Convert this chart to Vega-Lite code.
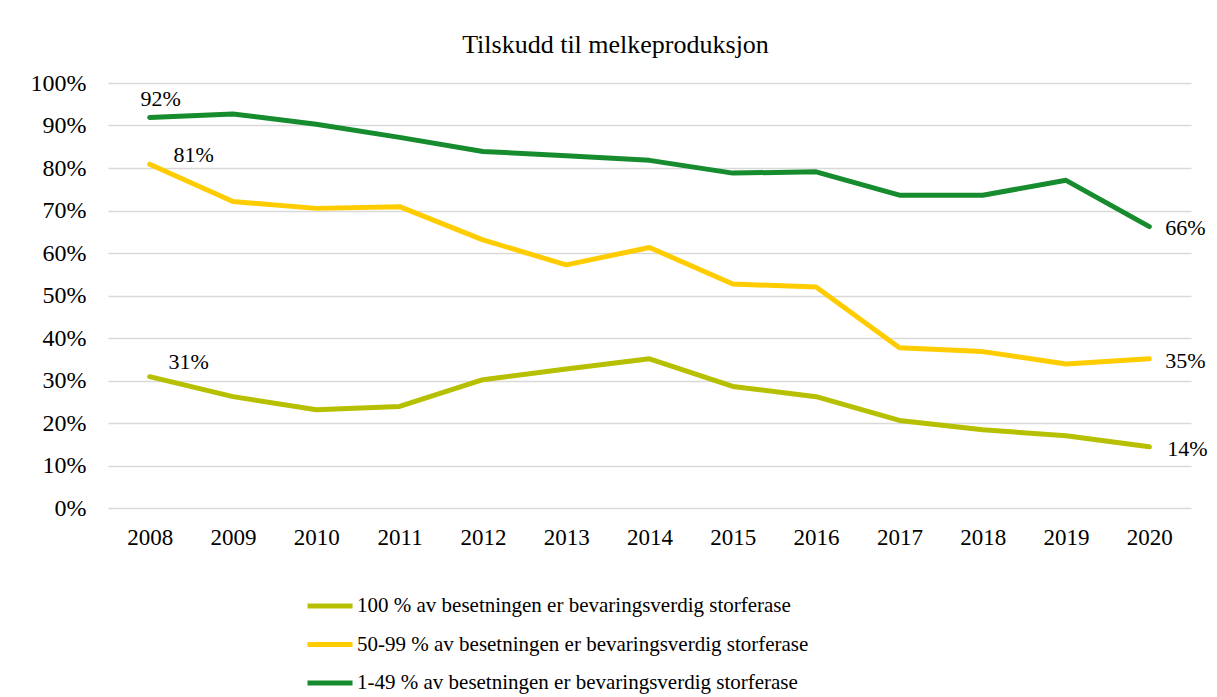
{
  "$schema": "https://vega.github.io/schema/vega-lite/v6.json",
  "width": 1083,
  "height": 425,
  "autosize": {"type": "none"},
  "padding": {"left": 108, "top": 83, "right": 26, "bottom": 189},
  "background": "white",
  "title": {
    "text": "Tilskudd til melkeproduksjon",
    "font": "Liberation Serif",
    "fontSize": 26,
    "fontWeight": "normal",
    "color": "#000000",
    "anchor": "middle",
    "dx": -34,
    "offset": 13
  },
  "config": {
    "view": {"stroke": null},
    "font": "Liberation Serif"
  },
  "data": {
    "values": [
      {"year": "2008", "series": "100 % av besetningen er bevaringsverdig storferase", "value": 0.309},
      {"year": "2009", "series": "100 % av besetningen er bevaringsverdig storferase", "value": 0.262},
      {"year": "2010", "series": "100 % av besetningen er bevaringsverdig storferase", "value": 0.231},
      {"year": "2011", "series": "100 % av besetningen er bevaringsverdig storferase", "value": 0.239},
      {"year": "2012", "series": "100 % av besetningen er bevaringsverdig storferase", "value": 0.302},
      {"year": "2013", "series": "100 % av besetningen er bevaringsverdig storferase", "value": 0.327},
      {"year": "2014", "series": "100 % av besetningen er bevaringsverdig storferase", "value": 0.351},
      {"year": "2015", "series": "100 % av besetningen er bevaringsverdig storferase", "value": 0.286},
      {"year": "2016", "series": "100 % av besetningen er bevaringsverdig storferase", "value": 0.262},
      {"year": "2017", "series": "100 % av besetningen er bevaringsverdig storferase", "value": 0.206},
      {"year": "2018", "series": "100 % av besetningen er bevaringsverdig storferase", "value": 0.184},
      {"year": "2019", "series": "100 % av besetningen er bevaringsverdig storferase", "value": 0.170},
      {"year": "2020", "series": "100 % av besetningen er bevaringsverdig storferase", "value": 0.144},
      {"year": "2008", "series": "50-99 % av besetningen er bevaringsverdig storferase", "value": 0.809},
      {"year": "2009", "series": "50-99 % av besetningen er bevaringsverdig storferase", "value": 0.721},
      {"year": "2010", "series": "50-99 % av besetningen er bevaringsverdig storferase", "value": 0.705},
      {"year": "2011", "series": "50-99 % av besetningen er bevaringsverdig storferase", "value": 0.709},
      {"year": "2012", "series": "50-99 % av besetningen er bevaringsverdig storferase", "value": 0.631},
      {"year": "2013", "series": "50-99 % av besetningen er bevaringsverdig storferase", "value": 0.572},
      {"year": "2014", "series": "50-99 % av besetningen er bevaringsverdig storferase", "value": 0.613},
      {"year": "2015", "series": "50-99 % av besetningen er bevaringsverdig storferase", "value": 0.527},
      {"year": "2016", "series": "50-99 % av besetningen er bevaringsverdig storferase", "value": 0.520},
      {"year": "2017", "series": "50-99 % av besetningen er bevaringsverdig storferase", "value": 0.377},
      {"year": "2018", "series": "50-99 % av besetningen er bevaringsverdig storferase", "value": 0.368},
      {"year": "2019", "series": "50-99 % av besetningen er bevaringsverdig storferase", "value": 0.339},
      {"year": "2020", "series": "50-99 % av besetningen er bevaringsverdig storferase", "value": 0.351},
      {"year": "2008", "series": "1-49 % av besetningen er bevaringsverdig storferase", "value": 0.919},
      {"year": "2009", "series": "1-49 % av besetningen er bevaringsverdig storferase", "value": 0.927},
      {"year": "2010", "series": "1-49 % av besetningen er bevaringsverdig storferase", "value": 0.903},
      {"year": "2011", "series": "1-49 % av besetningen er bevaringsverdig storferase", "value": 0.872},
      {"year": "2012", "series": "1-49 % av besetningen er bevaringsverdig storferase", "value": 0.839},
      {"year": "2013", "series": "1-49 % av besetningen er bevaringsverdig storferase", "value": 0.829},
      {"year": "2014", "series": "1-49 % av besetningen er bevaringsverdig storferase", "value": 0.818},
      {"year": "2015", "series": "1-49 % av besetningen er bevaringsverdig storferase", "value": 0.788},
      {"year": "2016", "series": "1-49 % av besetningen er bevaringsverdig storferase", "value": 0.791},
      {"year": "2017", "series": "1-49 % av besetningen er bevaringsverdig storferase", "value": 0.736},
      {"year": "2018", "series": "1-49 % av besetningen er bevaringsverdig storferase", "value": 0.736},
      {"year": "2019", "series": "1-49 % av besetningen er bevaringsverdig storferase", "value": 0.771},
      {"year": "2020", "series": "1-49 % av besetningen er bevaringsverdig storferase", "value": 0.662}
    ]
  },
  "encoding": {
    "x": {
      "field": "year",
      "type": "ordinal",
      "scale": {"type": "point", "padding": 0.5},
      "axis": {
        "title": null,
        "labelAngle": 0,
        "labelFont": "Liberation Serif",
        "labelFontSize": 23,
        "labelColor": "#000000",
        "labelPadding": 18,
        "ticks": false,
        "domain": false,
        "grid": false
      }
    },
    "y": {
      "field": "value",
      "type": "quantitative",
      "scale": {"domain": [0, 1], "nice": false},
      "axis": {
        "title": null,
        "format": ".0%",
        "values": [0, 0.1, 0.2, 0.3, 0.4, 0.5, 0.6, 0.7, 0.8, 0.9, 1],
        "labelFont": "Liberation Serif",
        "labelFontSize": 24,
        "labelColor": "#000000",
        "labelPadding": 22,
        "ticks": false,
        "domain": false,
        "grid": true,
        "gridColor": "#d9d9d9",
        "gridWidth": 1.5
      }
    }
  },
  "layer": [
    {
      "mark": {"type": "line", "strokeWidth": 5, "strokeCap": "round", "strokeJoin": "round"},
      "encoding": {
        "color": {
          "field": "series",
          "type": "nominal",
          "scale": {
            "domain": [
              "100 % av besetningen er bevaringsverdig storferase",
              "50-99 % av besetningen er bevaringsverdig storferase",
              "1-49 % av besetningen er bevaringsverdig storferase"
            ],
            "range": ["#b6c000", "#ffcc00", "#178c2e"]
          },
          "legend": {
            "title": null,
            "orient": "none",
            "direction": "vertical",
            "legendX": 197,
            "legendY": 498,
            "symbolType": "stroke",
            "symbolSize": 2025,
            "symbolStrokeWidth": 5,
            "labelFont": "Liberation Serif",
            "labelFontSize": 21,
            "labelColor": "#000000",
            "labelOffset": 2,
            "labelLimit": 700,
            "rowPadding": 3.5
          }
        }
      }
    },
    {
      "transform": [{"filter": "datum.year == '2008' && datum.series == '1-49 % av besetningen er bevaringsverdig storferase'"}],
      "mark": {"type": "text", "font": "Liberation Serif", "fontSize": 22, "color": "#000000", "dx": 11, "dy": -18},
      "encoding": {"text": {"field": "value", "type": "quantitative", "format": ".0%"}}
    },
    {
      "transform": [{"filter": "datum.year == '2008' && datum.series == '50-99 % av besetningen er bevaringsverdig storferase'"}],
      "mark": {"type": "text", "font": "Liberation Serif", "fontSize": 22, "color": "#000000", "dx": 44, "dy": -9},
      "encoding": {"text": {"field": "value", "type": "quantitative", "format": ".0%"}}
    },
    {
      "transform": [{"filter": "datum.year == '2008' && datum.series == '100 % av besetningen er bevaringsverdig storferase'"}],
      "mark": {"type": "text", "font": "Liberation Serif", "fontSize": 22, "color": "#000000", "dx": 39, "dy": -15},
      "encoding": {"text": {"field": "value", "type": "quantitative", "format": ".0%"}}
    },
    {
      "transform": [{"filter": "datum.year == '2020' && datum.series == '1-49 % av besetningen er bevaringsverdig storferase'"}],
      "mark": {"type": "text", "font": "Liberation Serif", "fontSize": 22, "color": "#000000", "align": "left", "dx": 16, "dy": 1},
      "encoding": {"text": {"field": "value", "type": "quantitative", "format": ".0%"}}
    },
    {
      "transform": [{"filter": "datum.year == '2020' && datum.series == '50-99 % av besetningen er bevaringsverdig storferase'"}],
      "mark": {"type": "text", "font": "Liberation Serif", "fontSize": 22, "color": "#000000", "align": "left", "dx": 16, "dy": 2},
      "encoding": {"text": {"field": "value", "type": "quantitative", "format": ".0%"}}
    },
    {
      "transform": [{"filter": "datum.year == '2020' && datum.series == '100 % av besetningen er bevaringsverdig storferase'"}],
      "mark": {"type": "text", "font": "Liberation Serif", "fontSize": 22, "color": "#000000", "align": "left", "dx": 18, "dy": 2},
      "encoding": {"text": {"field": "value", "type": "quantitative", "format": ".0%"}}
    }
  ]
}
